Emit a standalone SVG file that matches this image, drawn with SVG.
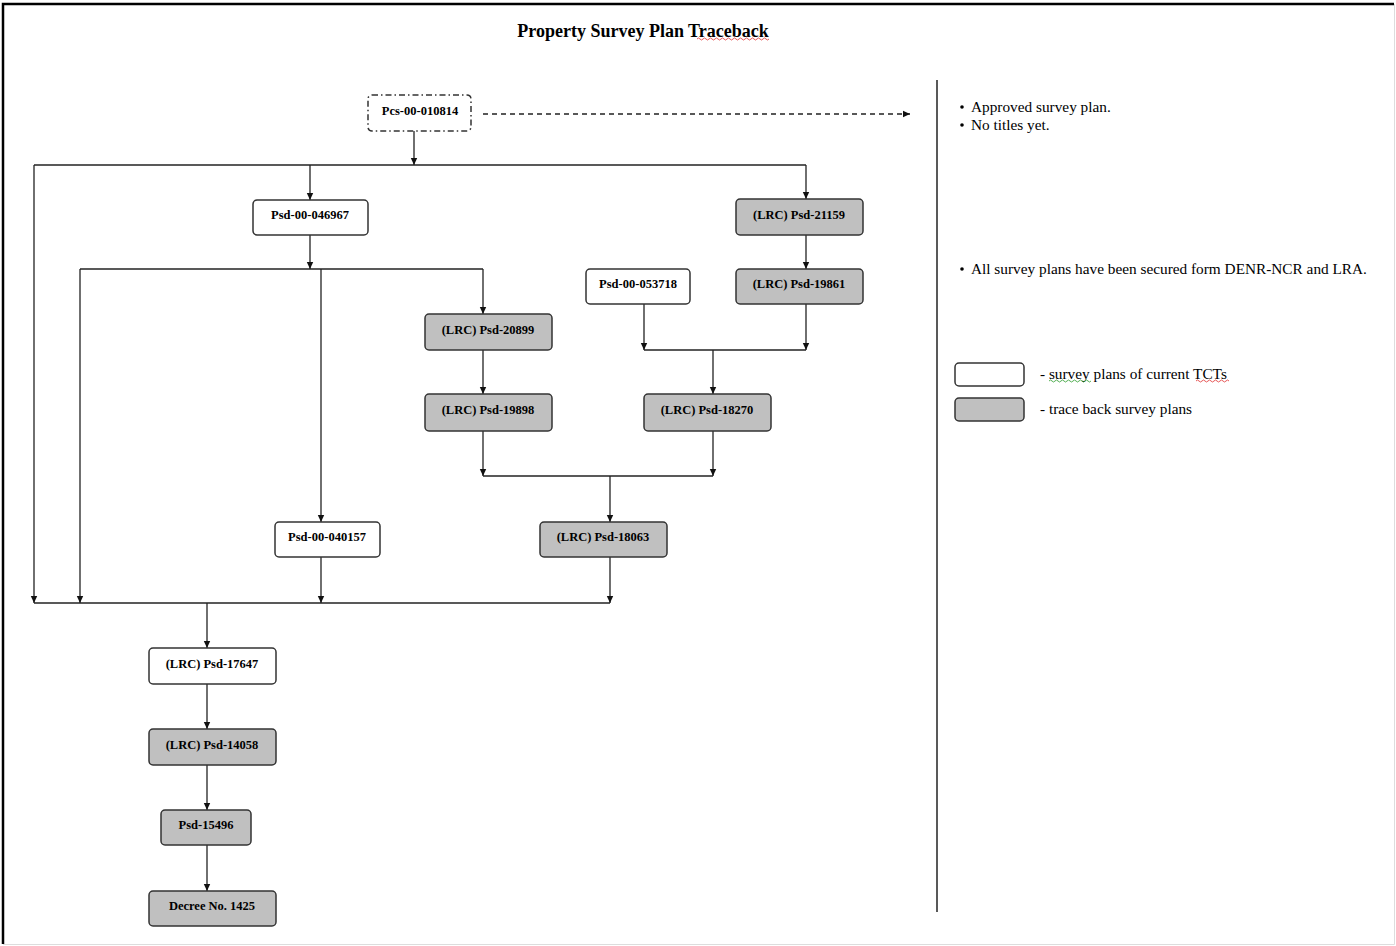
<svg xmlns="http://www.w3.org/2000/svg" width="1396" height="946" viewBox="0 0 1396 946">
<defs>
<marker id="ah" markerWidth="8" markerHeight="8" refX="7" refY="4" orient="auto" markerUnits="userSpaceOnUse">
<path d="M0,0.8 L7,4 L0,7.2 Z" fill="#111"/>
</marker>
</defs>
<style>
.n rect{fill:#fff;stroke:#333;stroke-width:1.5}
.n.g rect{fill:#c0c0c0}
.n text{font-family:"Liberation Serif","Times New Roman",serif;font-weight:bold;font-size:12.5px;fill:#000;text-anchor:middle}
.c path{fill:none;stroke:#222;stroke-width:1.3}
.t{font-family:"Liberation Serif","Times New Roman",serif;font-size:15.3px;fill:#000}
.w{fill:none;stroke-width:0.8}
</style>
<rect x="0" y="0" width="1396" height="946" fill="#fff"/>
<path d="M3,944 V4 H1394" fill="none" stroke="#000" stroke-width="2.5"/>
<path d="M1394.5,4 V944.5 H3" fill="none" stroke="#ddd" stroke-width="1"/>
<line x1="937" y1="80" x2="937" y2="912" stroke="#222" stroke-width="1.5"/>
<text x="643" y="37" text-anchor="middle" font-family="'Liberation Serif','Times New Roman',serif" font-weight="bold" font-size="18">Property Survey Plan Traceback</text>
<path class="w" stroke="#e03030" d="M697,39 q1.5,-2 3,0 t3,0 t3,0 t3,0 t3,0 t3,0 t3,0 t3,0 t3,0 t3,0 t3,0 t3,0 t3,0 t3,0 t3,0 t3,0 t3,0 t3,0 t3,0 t3,0 t3,0 t3,0 t3,0 t3,0"/>
<g class="c">
<path d="M483,114 H910" stroke-dasharray="5,4" marker-end="url(#ah)"/>
<path d="M414,131 V165" marker-end="url(#ah)"/>
<path d="M34,165 H806"/>
<path d="M310,165 V200" marker-end="url(#ah)"/>
<path d="M806,165 V199" marker-end="url(#ah)"/>
<path d="M34,165 V603" marker-end="url(#ah)"/>
<path d="M310,235 V269" marker-end="url(#ah)"/>
<path d="M80,269 H483"/>
<path d="M80,269 V603" marker-end="url(#ah)"/>
<path d="M321,269 V522" marker-end="url(#ah)"/>
<path d="M483,269 V314" marker-end="url(#ah)"/>
<path d="M483,350 V394" marker-end="url(#ah)"/>
<path d="M806,235 V269" marker-end="url(#ah)"/>
<path d="M644,304 V350" marker-end="url(#ah)"/>
<path d="M806,304 V350" marker-end="url(#ah)"/>
<path d="M644,350 H806"/>
<path d="M713,350 V394" marker-end="url(#ah)"/>
<path d="M483,431 V476" marker-end="url(#ah)"/>
<path d="M713,431 V476" marker-end="url(#ah)"/>
<path d="M483,476 H713"/>
<path d="M610,476 V522" marker-end="url(#ah)"/>
<path d="M321,557 V603" marker-end="url(#ah)"/>
<path d="M610,557 V603" marker-end="url(#ah)"/>
<path d="M34,603 H610"/>
<path d="M207,603 V648" marker-end="url(#ah)"/>
<path d="M207,684 V729" marker-end="url(#ah)"/>
<path d="M207,765 V810" marker-end="url(#ah)"/>
<path d="M207,845 V891" marker-end="url(#ah)"/>
</g>
<g id="pcs010814" class="n"><rect x="368" y="95" width="103" height="36" rx="4" stroke-dasharray="6,3,1.5,3"/><text x="420" y="115">Pcs-00-010814</text></g>
<g id="psd046967" class="n"><rect x="253" y="200" width="115" height="35" rx="4"/><text x="310" y="219">Psd-00-046967</text></g>
<g id="psd21159" class="n g"><rect x="736" y="199" width="127" height="36" rx="4"/><text x="799" y="219">(LRC) Psd-21159</text></g>
<g id="psd053718" class="n"><rect x="586" y="269" width="104" height="35" rx="4"/><text x="638" y="288">Psd-00-053718</text></g>
<g id="psd19861" class="n g"><rect x="736" y="269" width="127" height="35" rx="4"/><text x="799" y="288">(LRC) Psd-19861</text></g>
<g id="psd20899" class="n g"><rect x="425" y="314" width="127" height="36" rx="4"/><text x="488" y="334">(LRC) Psd-20899</text></g>
<g id="psd19898" class="n g"><rect x="425" y="394" width="127" height="37" rx="4"/><text x="488" y="414">(LRC) Psd-19898</text></g>
<g id="psd18270" class="n g"><rect x="644" y="394" width="127" height="37" rx="4"/><text x="707" y="414">(LRC) Psd-18270</text></g>
<g id="psd040157" class="n"><rect x="275" y="522" width="105" height="35" rx="4"/><text x="327" y="541">Psd-00-040157</text></g>
<g id="psd18063" class="n g"><rect x="540" y="522" width="127" height="35" rx="4"/><text x="603" y="541">(LRC) Psd-18063</text></g>
<g id="psd17647" class="n"><rect x="149" y="648" width="127" height="36" rx="4"/><text x="212" y="668">(LRC) Psd-17647</text></g>
<g id="psd14058" class="n g"><rect x="149" y="729" width="127" height="36" rx="4"/><text x="212" y="749">(LRC) Psd-14058</text></g>
<g id="psd15496" class="n g"><rect x="161" y="810" width="90" height="35" rx="4"/><text x="206" y="829">Psd-15496</text></g>
<g id="decree1425" class="n g"><rect x="149" y="891" width="127" height="35" rx="4"/><text x="212" y="910">Decree No. 1425</text></g>
<g id="notes">
<circle cx="962" cy="107" r="1.8" fill="#000"/>
<text class="t" x="971" y="112">Approved survey plan.</text>
<circle cx="962" cy="125" r="1.8" fill="#000"/>
<text class="t" x="971" y="130">No titles yet.</text>
<circle cx="962" cy="269" r="1.8" fill="#000"/>
<text class="t" x="971" y="274">All survey plans have been secured form DENR-NCR and LRA.</text>
</g>
<g id="legend">
<rect x="955" y="363" width="69" height="23" rx="4" fill="#fff" stroke="#333" stroke-width="1.5"/>
<rect x="955" y="398" width="69" height="23" rx="4" fill="#c0c0c0" stroke="#333" stroke-width="1.5"/>
<text class="t" x="1040" y="379">- survey plans of current TCTs</text>
<text class="t" x="1040" y="414">- trace back survey plans</text>
<path class="w" stroke="#2a9a2a" d="M1049,381 q1.5,-2 3,0 t3,0 t3,0 t3,0 t3,0 t3,0 t3,0 t3,0 t3,0 t3,0 t3,0 t3,0 t3,0 t3,0"/>
<path class="w" stroke="#e03030" d="M1196,381 q1.5,-2 3,0 t3,0 t3,0 t3,0 t3,0 t3,0 t3,0 t3,0 t3,0 t3,0 t3,0"/>
</g>
</svg>
